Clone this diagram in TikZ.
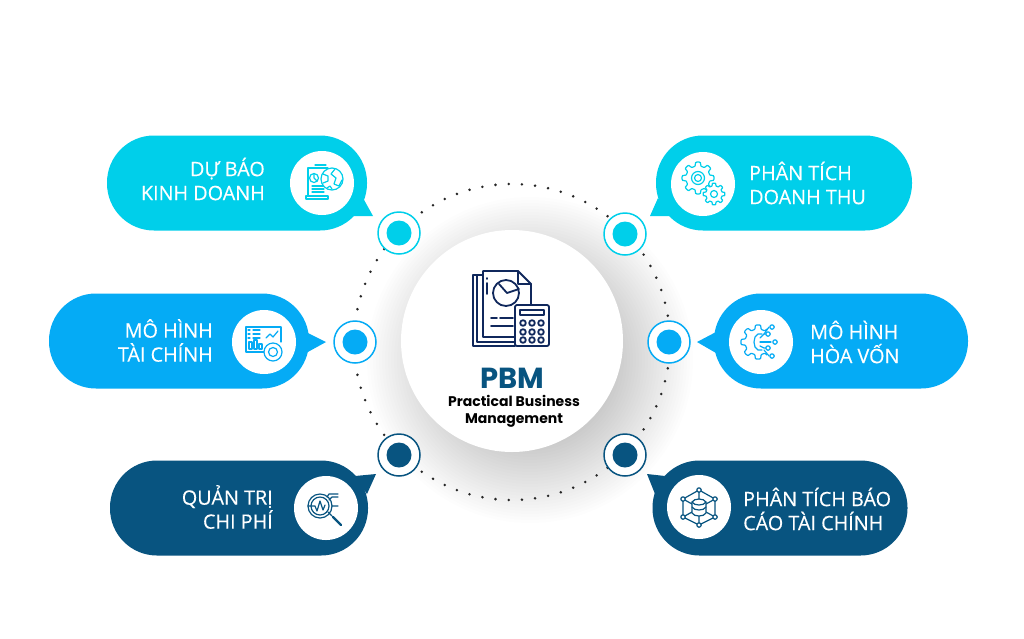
\documentclass[tikz,border=0pt]{standalone}
\usepackage{fontspec}
\setmainfont{Open Sans}
\newfontfamily\pbmfont{Poppins}
\newfontfamily\labelfont{Open Sans}[FakeBold=0.25]
\definecolor{tealblue}{HTML}{00CFEA}
\definecolor{skyblue}{HTML}{05ABF5}
\definecolor{deepblue}{HTML}{085480}
\definecolor{navyline}{HTML}{10285C}
\tikzset{
	bubble/.style={rounded corners=47pt,minimum height=95pt,inner sep=0pt},
	iconspot/.style={circle,fill=white,minimum size=64pt,inner sep=0pt},
	ringout/.style={circle,draw=#1,fill=white,line width=1.5pt,minimum size=42pt,inner sep=0pt},
	ringin/.style={circle,fill=#1,minimum size=25pt,inner sep=0pt},
	bubbletext/.style={text=white,font=\labelfont\fontsize{19.8}{24}\selectfont,inner sep=0pt},
	iconline/.style={draw=#1,line width=1.2pt,line join=round,line cap=round},
}
% gear outline: x, y, radius, teeth
\newcommand{\cogplot}[4]{plot[domain=0:360,samples=#4*10+1,variable=\t]
	({#1+(#3+0.14*#3*max(-1,min(1,2.5*cos(#4*\t))))*cos(\t)},{#2+(#3+0.14*#3*max(-1,min(1,2.5*cos(#4*\t))))*sin(\t)}) -- cycle}
\begin{document}
\begin{tikzpicture}[x=1pt,y=-1pt]
	\useasboundingbox (0,0) rectangle (1024,638);
	\fill[white] (0,0) rectangle (1024,638);
	% soft shadow of the middle disc
	\foreach \r in {88,91,...,163}
		\fill[black,opacity=.007] (530,360) circle [radius=\r pt];
	\foreach \i in {0,...,75}
		\fill[black!85] ({512+158*cos(\i*4.8)},{342+158*sin(\i*4.8)}) circle [radius=1.4pt];
	\node[circle,fill=white,minimum size=222pt,inner sep=0pt] (hub) at (512,341) {};

	% bubbles and their tails
	\node[bubble,fill=tealblue,minimum width=260pt] (forecast) at (237,183) {};
	\fill[tealblue] (363,198) -- (373,216) -- (352,216) -- cycle;
	\node[bubble,fill=tealblue,minimum width=256pt] (revenue) at (784,183) {};
	\fill[tealblue] (658,198) -- (650,216) -- (670,216) -- cycle;
	\node[bubble,fill=skyblue,minimum width=260pt] (finmodel) at (179,341) {};
	\fill[skyblue] (306,332) -- (326,342) -- (306,353) -- cycle;
	\node[bubble,fill=skyblue,minimum width=254pt] (breakeven) at (841,341) {};
	\fill[skyblue] (716,332) -- (697,342) -- (716,353) -- cycle;
	\node[bubble,fill=deepblue,minimum width=258pt] (costs) at (239,508) {};
	\fill[deepblue] (355,476) -- (376,474) -- (367,494) -- cycle;
	\node[bubble,fill=deepblue,minimum width=255pt] (report) at (780,508) {};
	\fill[deepblue] (665,476) -- (647,474) -- (655,494) -- cycle;

	\node[iconspot] (forecasticon) at (322,183) {};
	\node[iconspot] (revenueicon) at (703,184) {};
	\node[iconspot] (finmodelicon) at (264,342) {};
	\node[iconspot] (breakevenicon) at (761,342) {};
	\node[iconspot] (costsicon) at (326,508) {};
	\node[iconspot] (reporticon) at (699,507) {};

	% rings on the dotted circle
	\node[ringout=tealblue] (ringa) at (399,233) {};
	\node[ringin=tealblue] (dota) at (ringa) {};
	\node[ringout=tealblue] (ringb) at (625,234) {};
	\node[ringin=tealblue] (dotb) at (ringb) {};
	\node[ringout=skyblue] (ringc) at (355,342) {};
	\node[ringin=skyblue] (dotc) at (ringc) {};
	\node[ringout=skyblue] (ringd) at (669,342) {};
	\node[ringin=skyblue] (dotd) at (ringd) {};
	\node[ringout=deepblue] (ringe) at (399,455) {};
	\node[ringin=deepblue] (dote) at (ringe) {};
	\node[ringout=deepblue] (ringf) at (625,455) {};
	\node[ringin=deepblue] (dotf) at (ringf) {};

	% labels
	\node[bubbletext,anchor=east,align=right] (forecastlabel) at (265,179) {DỰ BÁO\\KINH DOANH};
	\node[bubbletext,anchor=west,align=left] (revenuelabel) at (749,183) {PHÂN TÍCH\\DOANH THU};
	\node[bubbletext,anchor=east,align=right] (finmodellabel) at (213,340.5) {MÔ HÌNH\\TÀI CHÍNH};
	\node[bubbletext,anchor=west,align=left] (breakevenlabel) at (810,342) {MÔ HÌNH\\HÒA VỐN};
	\node[bubbletext,anchor=east,align=right] (costslabel) at (273,507) {QUẢN TRỊ\\CHI PHÍ};
	\node[bubbletext,anchor=west,align=left] (reportlabel) at (743,509) {PHÂN TÍCH BÁO\\CÁO TÀI CHÍNH};

	\node[text=deepblue,font=\pbmfont\fontsize{29}{30}\selectfont\bfseries,inner sep=0pt] (pbm) at (512,378) {PBM};
	\node[font=\pbmfont\fontsize{14}{17}\selectfont\bfseries,align=center,inner sep=0pt] (pbmname) at (514,411) {Practical Business\\Management};

	% middle icon
	\begin{scope}[line width=1.8pt,draw=navyline,line join=round,line cap=round]
		\draw (477,275) -- (473,275) -- (473,346) -- (515,346);
		\draw (483,275) -- (477,275) -- (477,342) -- (515,342);
		\draw (515,337) -- (483,337) -- (483,271) -- (518,271) -- (531,284) -- (531,305);
		\draw (518,271) -- (518,284) -- (531,284);
		\draw (487,278) -- (487,279) (487,283) -- (487,294);
		\draw (506,293) circle [radius=13pt];
		\draw (499,284) -- (507,293) -- (519,289);
		\draw (491,318) -- (497,318) (500,318) -- (513,318);
		\draw (491,326) -- (513,326);
		\draw[rounded corners=2pt,fill=white] (515,305) rectangle (549,346);
		\draw (520,310) rectangle (544,315);
		\foreach \bx in {523,532,541}
			\foreach \by in {323,332,340}
				\draw (\bx,\by) circle [radius=2.8pt];
	\end{scope}

	% forecast icon
	\begin{scope}[shift={(forecasticon.center)},iconline=tealblue]
		\draw (6,-15) -- (-14,-15) -- (-14,13);
		\draw (-16,13) -- (6,13) -- (6,16) -- (-16,16) -- cycle;
		\draw (-7,-18) -- (4,-18);
		\draw (-8,-5) circle [radius=4.5pt];
		\draw (-8,-9.5) -- (-8,-5) -- (-5,-2);
		\draw (-10,3) -- (2,3) (-10,6) -- (2,6) (-10,9) -- (2,9);
		\draw[fill=white] (10,-4) circle [radius=11pt];
		\draw (1,-9) -- (6,-7) -- (6,-2) -- (1,0);
		\draw (13,-14) -- (9,-9) -- (14,-5) -- (12,1) -- (17,3) -- (20,-3);
		\draw (5,5) -- (8,3) -- (10,6);
	\end{scope}

	% revenue icon
	\begin{scope}[shift={(revenueicon.center)},iconline=tealblue]
		\draw \cogplot{-5}{-6}{14}{8};
		\draw (-5,-6) circle [radius=6.5pt];
		\draw (-5,-6) circle [radius=3.5pt];
		\draw[fill=white] \cogplot{11}{10}{9.5}{8};
		\draw (11,10) circle [radius=3.5pt];
	\end{scope}

	% financial model icon
	\begin{scope}[shift={(finmodelicon.center)},iconline=skyblue]
		\draw (9,10) -- (-18,10) -- (-18,-15) -- (17,-15) -- (17,0);
		\draw (-16,-12) -- (-14,-12) (-11,-12) -- (-4,-12);
		\draw (-16,-8) -- (-14,-8) (-11,-8) -- (-4,-8);
		\draw (-16,-4) -- (-14,-4) (-11,-4) -- (-4,-4);
		\draw (-15,7) rectangle (-12,0);
		\draw (-10,7) rectangle (-7,-2);
		\draw (-5,7) rectangle (-2,2);
		\draw (2,-4) -- (6,-8) -- (9,-5) -- (14,-11);
		\draw[fill=white] (9,10) circle [radius=9pt];
		\draw (9,10) circle [radius=4.5pt];
	\end{scope}

	% break-even icon
	\begin{scope}[shift={(breakevenicon.center)},iconline=skyblue]
		\draw \cogplot{-3}{0}{15}{8};
		\fill[white] (6,-17) rectangle (14,17);
		\draw (1,-8) -- (-3,-8) -- (-6,-5) -- (-7,0) -- (-6,5) -- (-3,8) -- (1,8);
		\draw (-1,0) -- (10,0);
		\draw (-1,-4) -- (3,-8) -- (7,-8);
		\draw (-1,4) -- (3,6) -- (7,6);
		\draw (3,-8) -- (8,-15);
		\draw (3,8) -- (8,14);
		\foreach \nx/\ny in {11/-15,14/0,11/14,7/-8,7/6}
			\draw[fill=white] (\nx,\ny) circle [radius=2.2pt];
	\end{scope}

	% cost icon
	\begin{scope}[shift={(costsicon.center)},iconline=deepblue]
		\draw (-6,-2) circle [radius=12pt];
		\draw (-6,-2) circle [radius=9pt];
		\draw (-18,-2) -- (-14,-2) -- (-11,-2) -- (-9,3) -- (-6,-7) -- (-3,2) -- (-1,-3);
		\draw (2,4) -- (6,8);
		\draw[line width=2.4pt] (7,9) -- (15,17);
		\draw (1,-11) -- (3,-14) -- (12,-14) (3,-8) -- (6,-11) -- (12,-11) (6,-2) -- (12,-2);
	\end{scope}

	% report icon
	\begin{scope}[shift={(reporticon.center)},iconline=deepblue]
		\draw (0,-17) -- (16,-8) -- (16,10) -- (0,18) -- (-16,10) -- (-16,-8) -- cycle;
		\draw (0,-17) -- (0,-8) (-16,-8) -- (-7,-3) (16,-8) -- (7,-3);
		\draw (-16,10) -- (-7,5) (16,10) -- (7,5) (0,18) -- (0,9);
		\draw[fill=white] (-7,-5) -- (-7,6) .. controls (-5,10) and (5,10) .. (7,6) -- (7,-5) .. controls (5,-9) and (-5,-9) .. (-7,-5) -- cycle;
		\draw (-7,-5) .. controls (-5,-1) and (5,-1) .. (7,-5);
		\draw (-7,0) .. controls (-5,4) and (5,4) .. (7,0);
		\foreach \nx/\ny in {0/-17,16/-8,16/10,0/18,-16/10,-16/-8}
			\draw[fill=white] (\nx,\ny) circle [radius=2.2pt];
	\end{scope}
\end{tikzpicture}
\end{document}
